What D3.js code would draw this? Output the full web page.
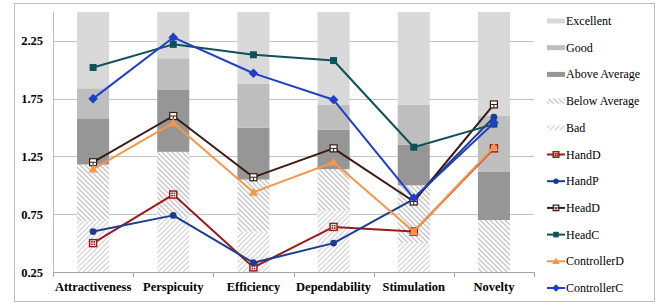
<!DOCTYPE html>
<html lang="en">

<head>
    <title>UEQ Benchmark</title>
    <meta charset="utf-8" />
    <script src="https://d3js.org/d3.v7.min.js"></script>
    <style>
        body,
        html {
            margin: 0;
            padding: 0;
            width: 100%;
            height: 100%;
            overflow: hidden;
            background: #fff;
        }

        .axis-label {
            font-family: "Liberation Serif", "DejaVu Serif", serif;
            font-weight: bold;
            font-size: 12.5px;
            fill: #000;
        }

        .legend text {
            font-family: "Liberation Serif", "DejaVu Serif", serif;
            font-size: 12px;
            fill: #000;
        }
    </style>
</head>

<body>
    <div id="chart"></div>
    <script>
        // カテゴリ
        const categories = ["Attractiveness", "Perspicuity", "Efficiency", "Dependability", "Stimulation", "Novelty"];

        // ベンチマークの境界値 (Bad / Below Average / Above Average / Good の上限)
        const badTop = [0.69, 0.72, 0.60, 0.78, 0.50, 0.16];
        const belowAvgTop = [1.18, 1.29, 1.05, 1.14, 1.00, 0.70];
        const aboveAvgTop = [1.58, 1.83, 1.50, 1.48, 1.35, 1.12];
        const goodTop = [1.84, 2.10, 1.88, 1.70, 1.70, 1.60];
        const excellentTop = [2.5, 2.5, 2.5, 2.5, 2.5, 2.5];

        // 系列の値
        const handD = [0.50, 0.92, 0.29, 0.64, 0.60, 1.32];
        const handP = [0.60, 0.74, 0.33, 0.50, 0.88, 1.59];
        const headD = [1.20, 1.60, 1.07, 1.32, 0.86, 1.70];
        const headC = [2.02, 2.22, 2.13, 2.08, 1.33, 1.53];
        const controllerD = [1.14, 1.54, 0.94, 1.20, 0.60, 1.33];
        const controllerC = [1.75, 2.28, 1.97, 1.74, 0.89, 1.54];

        const yTicks = [0.25, 0.75, 1.25, 1.75, 2.25];

        const bands = [
            { name: "Bad", fill: "url(#hatchBad)", lo: categories.map(() => 0), hi: badTop },
            { name: "Below Average", fill: "url(#hatchBelow)", lo: badTop, hi: belowAvgTop },
            { name: "Above Average", fill: "#969696", lo: belowAvgTop, hi: aboveAvgTop },
            { name: "Good", fill: "#bebebe", lo: aboveAvgTop, hi: goodTop },
            { name: "Excellent", fill: "#d9d9d9", lo: goodTop, hi: excellentTop }
        ];

        const series = [
            { name: "HandD", values: handD, color: "#9a1b1b", marker: "squareX" },
            { name: "HandP", values: handP, color: "#1b3d8c", marker: "circle" },
            { name: "HeadD", values: headD, color: "#3a1a12", marker: "squarePlus" },
            { name: "HeadC", values: headC, color: "#0f5159", marker: "square" },
            { name: "ControllerD", values: controllerD, color: "#f79646", marker: "triangle" },
            { name: "ControllerC", values: controllerC, color: "#1f3fc8", marker: "diamond" }
        ];

        const width = 672;
        const height = 303;
        const plot = { left: 53, right: 534, top: 12, bottom: 272 };

        const svg = d3.select("#chart").append("svg")
            .attr("width", width)
            .attr("height", height);

        const defs = svg.append("defs");

        // ハッチング
        function hatch(id, color, dir) {
            const p = defs.append("pattern")
                .attr("id", id)
                .attr("patternUnits", "userSpaceOnUse")
                .attr("width", 5)
                .attr("height", 5);
            p.append("rect").attr("width", 5).attr("height", 5).attr("fill", "#fff");
            const d = dir > 0
                ? "M0,5L5,0M-1,1L1,-1M4,6L6,4"
                : "M0,0L5,5M-1,4L1,6M4,-1L6,1";
            p.append("path").attr("d", d).attr("stroke", color).attr("stroke-width", 1.3);
        }
        hatch("hatchBad", "#d6d6d6", 1);
        hatch("hatchBelow", "#c4c4c4", -1);

        defs.append("clipPath").attr("id", "plotClip")
            .append("rect")
            .attr("x", plot.left)
            .attr("y", plot.top)
            .attr("width", plot.right - plot.left)
            .attr("height", plot.bottom - plot.top);

        const x = d3.scaleBand()
            .domain(categories)
            .range([plot.left, plot.right]);

        const y = d3.scaleLinear()
            .domain([0.25, 2.5])
            .range([plot.bottom, plot.top]);

        const barW = x.bandwidth() * 0.4;

        // 外枠
        svg.append("rect")
            .attr("x", 14.5)
            .attr("y", 3.5)
            .attr("width", 640)
            .attr("height", 298)
            .attr("fill", "none")
            .attr("stroke", "#bdbdbd");

        // グリッド
        svg.append("g")
            .selectAll("line")
            .data(yTicks.slice(1))
            .enter().append("line")
            .attr("x1", plot.left)
            .attr("x2", plot.right)
            .attr("y1", d => Math.round(y(d)) + 0.5)
            .attr("y2", d => Math.round(y(d)) + 0.5)
            .attr("stroke", "#c3c3c3");

        // ベンチマークの積み上げ棒
        const barG = svg.append("g").attr("clip-path", "url(#plotClip)");
        bands.forEach(b => {
            barG.append("g")
                .selectAll("rect")
                .data(categories)
                .enter().append("rect")
                .attr("x", d => x(d) + (x.bandwidth() - barW) / 2)
                .attr("width", barW)
                .attr("y", (d, i) => y(b.hi[i]))
                .attr("height", (d, i) => Math.max(0, y(b.lo[i]) - y(b.hi[i])))
                .attr("fill", b.fill);
        });

        // 軸
        svg.append("line")
            .attr("x1", plot.left + 0.5).attr("x2", plot.left + 0.5)
            .attr("y1", plot.top).attr("y2", plot.bottom)
            .attr("stroke", "#bdbdbd");

        const xAxis = svg.append("g")
            .attr("transform", `translate(0,${plot.bottom + 0.5})`)
            .call(d3.axisBottom(x).tickSize(0).tickFormat(""));
        xAxis.select(".domain").attr("stroke", "#a6a6a6").attr("d", `M${plot.left},0H${plot.right}`);
        xAxis.selectAll(".tick").remove();

        const bounds = categories.map(c => x(c)).concat([plot.right]);
        svg.append("g")
            .selectAll("line")
            .data(bounds)
            .enter().append("line")
            .attr("x1", d => Math.round(d) + 0.5)
            .attr("x2", d => Math.round(d) + 0.5)
            .attr("y1", plot.bottom)
            .attr("y2", plot.bottom + 5)
            .attr("stroke", "#a6a6a6");

        svg.append("g")
            .selectAll("text")
            .data(categories)
            .enter().append("text")
            .attr("class", "axis-label")
            .attr("x", d => x(d) + x.bandwidth() / 2)
            .attr("y", 291)
            .attr("text-anchor", "middle")
            .text(d => d);

        svg.append("g")
            .selectAll("text")
            .data(yTicks)
            .enter().append("text")
            .attr("class", "axis-label")
            .attr("x", 43)
            .attr("y", d => y(d) + 4.5)
            .attr("text-anchor", "end")
            .text(d => d3.format(".2f")(d));

        // マーカー描画
        function drawMarker(g, type, color, cx, cy, s) {
            s = s || 1;
            if (type === "circle") {
                g.append("circle").attr("cx", cx).attr("cy", cy).attr("r", 3.4 * s).attr("fill", color);
            } else if (type === "square") {
                g.append("rect").attr("x", cx - 3.5 * s).attr("y", cy - 3.5 * s)
                    .attr("width", 7 * s).attr("height", 7 * s).attr("fill", color);
            } else if (type === "triangle") {
                const r = 4.6 * s;
                g.append("path")
                    .attr("d", `M${cx},${cy - r}L${cx + r},${cy + r * 0.75}L${cx - r},${cy + r * 0.75}Z`)
                    .attr("fill", color);
            } else if (type === "diamond") {
                const r = 4.8 * s;
                g.append("path")
                    .attr("d", `M${cx},${cy - r}L${cx + r},${cy}L${cx},${cy + r}L${cx - r},${cy}Z`)
                    .attr("fill", color);
            } else if (type === "squareX") {
                g.append("rect").attr("x", cx - 3.5 * s).attr("y", cy - 3.5 * s)
                    .attr("width", 7 * s).attr("height", 7 * s)
                    .attr("fill", "#fff").attr("stroke", color).attr("stroke-width", 1.5);
                g.append("path")
                    .attr("d", `M${cx - 2 * s},${cy - 2 * s}h1.6v1.6h-1.6Z M${cx + 0.4 * s},${cy - 2 * s}h1.6v1.6h-1.6Z M${cx - 2 * s},${cy + 0.4 * s}h1.6v1.6h-1.6Z M${cx + 0.4 * s},${cy + 0.4 * s}h1.6v1.6h-1.6Z`)
                    .attr("fill", color);
            } else if (type === "squarePlus") {
                g.append("rect").attr("x", cx - 3.5 * s).attr("y", cy - 3.5 * s)
                    .attr("width", 7 * s).attr("height", 7 * s)
                    .attr("fill", "#fff").attr("stroke", color).attr("stroke-width", 1.2);
                g.append("path")
                    .attr("d", `M${cx - 3.5 * s},${cy}H${cx + 3.5 * s}M${cx},${cy}V${cy + 3.5 * s}`)
                    .attr("stroke", color).attr("stroke-width", 1);
            }
        }

        // 系列の線とマーカー
        const line = d3.line()
            .x((d, i) => x(categories[i]) + x.bandwidth() / 2)
            .y(d => y(d));

        series.forEach(s => {
            const g = svg.append("g");
            g.append("path")
                .datum(s.values)
                .attr("fill", "none")
                .attr("stroke", s.color)
                .attr("stroke-width", 2)
                .attr("stroke-linejoin", "round")
                .attr("d", line);
            s.values.forEach((v, i) => {
                drawMarker(g, s.marker, s.color, x(categories[i]) + x.bandwidth() / 2, y(v));
            });
        });

        // 凡例
        const legend = svg.append("g").attr("class", "legend");
        const legendItems = bands.slice().reverse().map(b => ({ name: b.name, fill: b.fill, kind: "bar" }))
            .concat(series.map(s => ({ name: s.name, color: s.color, marker: s.marker, kind: "line" })));

        legendItems.forEach((d, i) => {
            const cy = 21 + i * 26.7;
            const g = legend.append("g");
            if (d.kind === "bar") {
                g.append("rect")
                    .attr("x", 547).attr("y", cy - 2.5)
                    .attr("width", 18).attr("height", 5)
                    .attr("fill", d.fill);
            } else {
                g.append("line")
                    .attr("x1", 547).attr("x2", 565)
                    .attr("y1", cy).attr("y2", cy)
                    .attr("stroke", d.color).attr("stroke-width", 2);
                drawMarker(g, d.marker, d.color, 556, cy, 0.8);
            }
            g.append("text")
                .attr("x", 566)
                .attr("y", cy + 4)
                .text(d.name);
        });
    </script>
</body>

</html>
